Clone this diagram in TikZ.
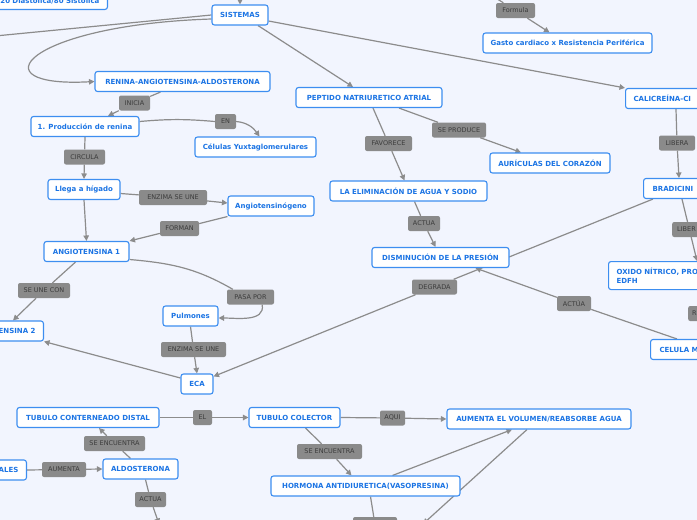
\documentclass[tikz,border=0pt]{standalone}
\usepackage{fontspec}
\setmainfont{DejaVu Sans}
\usetikzlibrary{arrows.meta,backgrounds}
\definecolor{bg}{HTML}{F2F5FE}
\definecolor{bluebd}{HTML}{3D8EF0}
\definecolor{bluetx}{HTML}{1B74E4}
\definecolor{lblfill}{HTML}{8A8A8A}
\definecolor{lbltx}{HTML}{3C3C3C}
\definecolor{edgec}{HTML}{8C8C8C}
\tikzset{
 box/.style={draw=bluebd, line width=1.1pt, fill=white, rounded corners=2.5pt, text=bluetx,
   font=\fontsize{7}{9}\selectfont\bfseries, minimum height=20pt, inner sep=3pt},
 lbl/.style={fill=lblfill, rounded corners=2pt, text=lbltx, font=\fontsize{6.5}{7.5}\selectfont,
   minimum height=15pt, inner sep=2pt},
 conn/.style={draw=edgec, line width=1.2pt},
 arr/.style={conn, -{Triangle[length=5.5pt,width=5.5pt]}}
}
\begin{document}
\begin{tikzpicture}[x=1pt,y=-1pt]
\useasboundingbox (0,0) rectangle (697,520);
\clip (0,0) rectangle (697,520);
% boxes
\node[box, anchor=south east, text width=130pt, align=right, inner xsep=8pt, inner ysep=2pt, minimum height=16pt] (diast) at (108,10) {20 Diastolica/80 Sistolica};
\node[box, minimum width=56pt] (sis) at (240,15) {SISTEMAS};
\node[box, minimum width=169pt] (gasto) at (567.5,43) {Gasto cardiaco x Resistencia Periférica};
\node[box, minimum width=175pt] (ren) at (182.5,81.5) {RENINA-ANGIOTENSINA-ALDOSTERONA};
\node[box, minimum width=146pt] (pep) at (369,97.5) {PEPTIDO NATRIURETICO ATRIAL};
\node[box, anchor=west, text width=100pt, align=left, inner xsep=8pt] (cal) at (625,98.5) {CALICREÍNA-CI};
\node[box, minimum width=108pt] (prod) at (85,126.5) {1. Producción de renina};
\node[box, minimum width=121pt] (cel) at (255.5,147) {Células Yuxtaglomerulares};
\node[box, minimum width=120pt] (aur) at (550,163) {AURÍCULAS DEL CORAZÓN};
\node[box, anchor=west, text width=100pt, align=left, inner xsep=9pt] (brad) at (643,188.5) {BRADICINI};
\node[box, minimum width=72pt] (llega) at (84,189.5) {Llega a hígado};
\node[box, minimum width=157pt] (elim) at (408.5,191) {LA ELIMINACIÓN DE AGUA Y SODIO};
\node[box, minimum width=86pt] (angio) at (271,206) {Angiotensinógeno};
\node[box, minimum width=85pt] (ang1) at (86.5,251.5) {ANGIOTENSINA 1};
\node[box, minimum width=137pt] (dis) at (440.5,257.5) {DISMINUCIÓN DE LA PRESIÓN};
\node[box, anchor=north west, text width=110pt, align=left, inner xsep=8pt, inner ysep=5pt, minimum height=28pt] (oxi) at (608,261) {OXIDO NÍTRICO, PRO\\EDFH};
\node[box, minimum width=55pt] (pul) at (190.5,316) {Pulmones};
\node[box, anchor=east, text width=100pt, align=right, inner xsep=8pt] (ang2) at (44,331) {ENSINA 2};
\node[box, anchor=west, text width=100pt, align=left, inner xsep=9pt] (celm) at (650,349.5) {CELULA M};
\node[box, minimum width=32pt] (eca) at (197,384) {ECA};
\node[box, minimum width=142pt] (tcd) at (88,417.5) {TUBULO CONTERNEADO DISTAL};
\node[box, minimum width=91pt] (tc) at (294.5,417.5) {TUBULO COLECTOR};
\node[box, minimum width=184pt] (aum) at (539,419) {AUMENTA EL VOLUMEN/REABSORBE AGUA};
\node[box, minimum width=75pt] (ald) at (140.5,469) {ALDOSTERONA};
\node[box, anchor=east, text width=100pt, align=right, inner xsep=8pt] (ales) at (27,470) {ALES};
\node[box, minimum width=189pt] (hor) at (365.5,486) {HORMONA ANTIDIURETICA(VASOPRESINA)};
% labels
\node[lbl, minimum width=39pt] (formula) at (515.5,10.5) {Formula};
\node[lbl, minimum width=31pt] (inicia) at (134.5,103) {INICIA};
\node[lbl, minimum width=21pt] (en) at (225.5,121.5) {EN};
\node[lbl, minimum width=54pt] (seproduce) at (459,130) {SE PRODUCE};
\node[lbl, minimum width=47pt] (favorece) at (388.5,143.5) {FAVORECE};
\node[lbl, minimum width=36pt] (libera1) at (677,143) {LIBERA};
\node[lbl, minimum width=41pt] (circula) at (84.5,157) {CIRCULA};
\node[lbl, minimum width=68pt] (enz1) at (173,197.5) {ENZIMA SE UNE};
\node[lbl, minimum width=32pt] (actua2) at (424,223.5) {ACTUA};
\node[lbl, anchor=west, text width=40pt, align=left, inner xsep=5pt] (liber2) at (672,229.5) {LIBER};
\node[lbl, minimum width=39pt] (forman) at (179.5,228.5) {FORMAN};
\node[lbl, minimum width=45pt] (degrada) at (434.5,287) {DEGRADA};
\node[lbl, minimum width=52pt] (seunecon) at (44,290.5) {SE UNE CON};
\node[lbl, minimum width=47pt] (pasapor) at (250.5,297) {PASA POR};
\node[lbl, minimum width=34pt] (actua1) at (574,303.5) {ACTÚA};
\node[lbl, anchor=west, text width=20pt, align=left, inner xsep=4pt] (rlbl) at (688,313.5) {R};
\node[lbl, minimum width=65pt] (enz2) at (193.5,349.5) {ENZIMA SE UNE};
\node[lbl, minimum width=19pt] (el) at (202.5,417.5) {EL};
\node[lbl, minimum width=25pt] (aqui) at (392.5,418) {AQUI};
\node[lbl, minimum width=61pt] (seenc1) at (114.5,443.5) {SE ENCUENTRA};
\node[lbl, minimum width=65pt] (seenc2) at (329.5,451.5) {SE ENCUENTRA};
\node[lbl, minimum width=44pt] (aumenta) at (64,469.5) {AUMENTA};
\node[lbl, minimum width=31pt] (actua3) at (150.5,499.5) {ACTUA};
\node[lbl, minimum width=44pt] (botlbl) at (375,524.5) {};
% free ends
\coordinate (topin) at (240,-12);
\coordinate (fin) at (480,-12);
\coordinate (offl) at (-5,36);
\coordinate (offb1) at (159,524);
\coordinate (offb2) at (423,524);
\begin{pgfonlayer}{background}
\fill[bg] (0,0) rectangle (697,520);
\draw[arr] (topin) -- (sis.north);
\draw[arr] (fin) -- (formula) -- ([xshift=-18pt]gasto.north);
\draw[conn] (sis.west) -- (offl);
\draw[arr] ([yshift=-4pt]sis.west) .. controls (25,25) and (-25,88) .. (ren.west);
\draw[arr] ([xshift=18pt]sis.south) -- ([xshift=-16pt]pep.north);
\draw[arr] ([yshift=-6pt]sis.east) -- (cal.north west);
\draw[arr] ([xshift=-22pt]ren.south) -- (inicia) -- ([xshift=23pt]prod.north);
\draw[conn] ([yshift=5pt]prod.east) to[bend left=5] (en.west);
\draw[arr] (en.east) to[out=-5,in=125] ([xshift=4pt]cel.north);
\draw[arr] (prod.south) -- (circula) -- (llega.north);
\draw[arr] ([yshift=-4pt]llega.east) -- (enz1) -- ([yshift=3pt]angio.west);
\draw[arr] (angio.south west) -- (forman) -- (ang1.north east);
\draw[arr] (llega.south) -- (ang1.north);
\draw[arr] ([xshift=-11pt]ang1.south) -- (seunecon) -- ([xshift=-31pt]ang2.north east);
\draw[conn] ([yshift=-8pt]ang1.east) to[out=-5,in=150] ([xshift=6pt]pasapor.north west);
\draw[arr] ([xshift=-12pt]pasapor.south east) to[out=-80,in=0] ([yshift=-2pt]pul.east);
\draw[arr] (pul.south) -- (enz2) -- (eca.north);
\draw[arr] ([yshift=6pt]eca.west) -- (ang2.south east);
\draw[arr] ([xshift=10pt]brad.south west) -- (degrada) -- ([yshift=-3pt]eca.north east);
\draw[arr] ([xshift=27pt]celm.north west) -- (actua1) -- ([xshift=35pt]dis.south);
\draw[arr] ([xshift=39pt]brad.south west) -- ([xshift=89pt]oxi.north west);
\draw[arr] ([xshift=51pt]cal.south west) -- (libera1) -- ([xshift=36pt]brad.north west);
\draw[arr] ([xshift=30pt]pep.south) -- (seproduce) -- ([xshift=-29pt]aur.north);
\draw[arr] ([xshift=4pt]pep.south) -- (favorece) -- ([xshift=-4pt]elim.north);
\draw[arr] ([xshift=6pt]elim.south) -- (actua2) -- ([xshift=-5pt]dis.north);
\draw[arr] (tcd.east) -- (el) -- (tc.west);
\draw[arr] (tc.east) -- (aqui) -- (aum.west);
\draw[arr] ([xshift=-10pt]ald.north) -- (seenc1) -- ([xshift=11pt]tcd.south);
\draw[arr] (ales.east) -- (aumenta) -- (ald.west);
\draw[arr] ([xshift=5pt]ald.south) -- (actua3) -- (offb1);
\draw[arr] ([xshift=11pt]tc.south) -- (seenc2) -- ([xshift=-14pt]hor.north);
\draw[arr] ([xshift=27pt]hor.north) -- ([xshift=-27pt]aum.south);
\draw[arr] ([xshift=-12pt]aum.south) -- (offb2);
\draw[conn] ([xshift=5pt]hor.south) -- (botlbl);
\end{pgfonlayer}
\end{tikzpicture}
\end{document}
